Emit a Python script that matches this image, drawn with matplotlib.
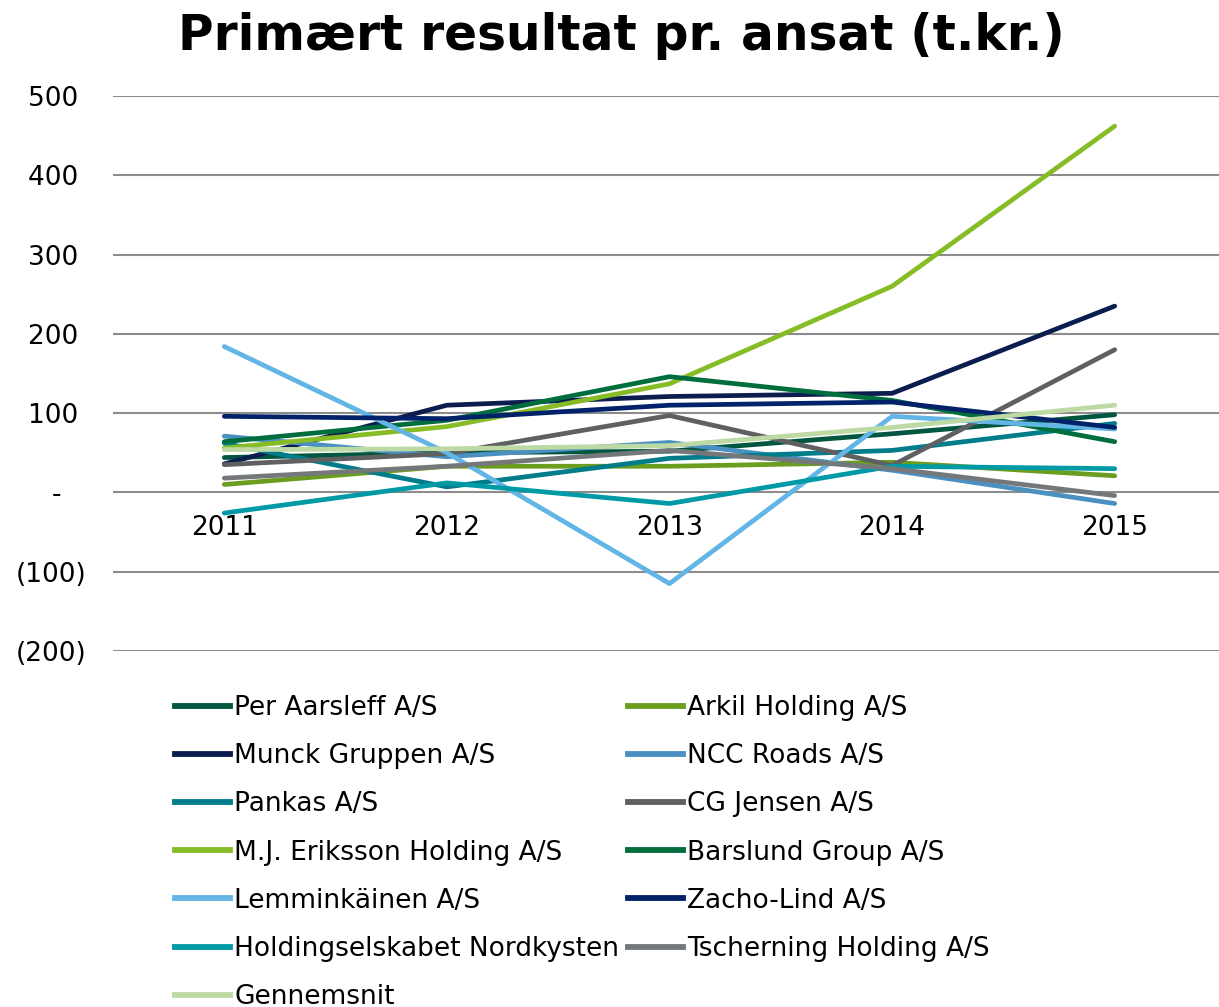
import matplotlib.pyplot as plt
from matplotlib.lines import Line2D

years = ["2011", "2012", "2013", "2014", "2015"]

per_aarsleff = [44, 50, 52, 74, 98]
arkil = [10, 33, 33, 38, 21]
munck = [36, 110, 121, 125, 235]
ncc_roads = [71, 45, 63, 28, -14]
pankas = [62, 7, 43, 53, 87]
cg_jensen = [35, 49, 97, 34, 180]
mj_eriksson = [56, 83, 137, 260, 462]
barslund = [64, 91, 146, 116, 64]
lemminkainen = [184, 50, -115, 96, 80]
zacho_lind = [96, 93, 110, 114, 82]
nordkysten = [-26, 12, -14, 33, 30]
tscherning = [18, 33, 53, 30, -4]
gennemsnit = [54, 55, 59, 82, 110]

y_ticks = [-200, -100, 0, 100, 200, 300, 400, 500]
y_labels = ["(200)", "(100)", "-   ", "100 ", "200 ", "300 ", "400 ", "500 "]

names = ["Per Aarsleff A/S", "Arkil Holding A/S", "Munck Gruppen A/S", "NCC Roads A/S",
         "Pankas A/S", "CG Jensen A/S", "M.J. Eriksson Holding A/S", "Barslund Group A/S",
         "Lemminkäinen A/S", "Zacho-Lind A/S", "Holdingselskabet Nordkysten",
         "Tscherning Holding A/S", "Gennemsnit"]
series = [per_aarsleff, arkil, munck, ncc_roads, pankas, cg_jensen, mj_eriksson,
          barslund, lemminkainen, zacho_lind, nordkysten, tscherning, gennemsnit]
colors = ["#00563f", "#6b9d1f", "#0b1c4f", "#4a90c0", "#007c8a", "#5f6062", "#86bc25",
          "#006e3c", "#62b5e5", "#012169", "#009aa6", "#75787b", "#bdd9a4"]

fig = plt.figure(figsize=(12.19, 10.07), dpi=100)
ax = fig.add_axes([113 / 1219, 1 - 651 / 1007, 1113 / 1219, 555 / 1007])

x = list(range(len(years)))
for vals, c, n in zip(series, colors, names):
    ax.plot(x, vals, color=c, lw=3.4, label=n, solid_capstyle="round", solid_joinstyle="round")

ax.set_xlim(-0.5, 4.5)
ax.set_ylim(-200, 500)
ax.set_yticks(y_ticks)
ax.set_yticklabels(y_labels)
ax.yaxis.grid(True, color="#8c8c8c", lw=1.5)
ax.set_axisbelow(True)
for s in ax.spines.values():
    s.set_visible(False)
ax.spines["bottom"].set_position(("data", 0))
ax.set_xticks(x)
ax.set_xticklabels(years)
ax.tick_params(axis="y", length=0, pad=19, labelsize=19)
ax.tick_params(axis="x", length=0, pad=16, labelsize=19)

fig.text(621 / 1219, 1 - 36 / 1007, "Primært resultat pr. ansat (t.kr.)",
         ha="center", va="center", fontsize=35, fontweight="bold")

handles = [Line2D([], [], color=c, lw=4.2) for c in colors]
left = [0, 2, 4, 6, 8, 10, 12]
right = [1, 3, 5, 7, 9, 11]
for idx, xpos in [(left, 175), (right, 628)]:
    fig.legend([handles[i] for i in idx], [names[i] for i in idx],
               loc="upper left", bbox_to_anchor=(xpos / 1219, 1 - 695 / 1007),
               frameon=False, fontsize=19, handlelength=2.1, handletextpad=0.15,
               labelspacing=0.84, borderpad=0, borderaxespad=0)

fig.savefig("out.png", dpi=100)
